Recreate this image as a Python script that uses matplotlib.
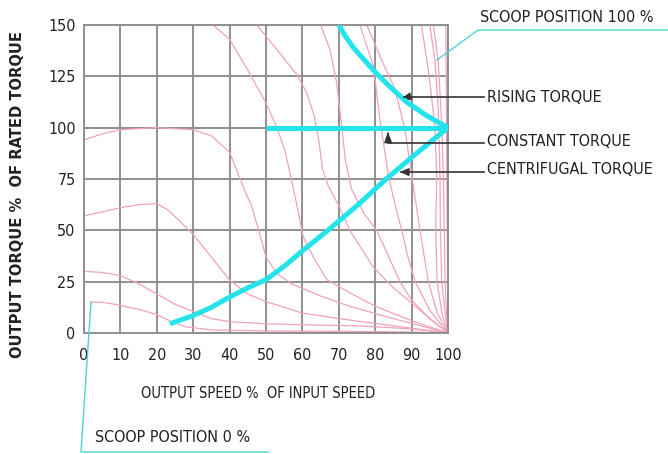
import matplotlib
matplotlib.use("Agg")
import matplotlib.pyplot as plt
from matplotlib import font_manager

# pick a narrow/condensed face if one is installed, otherwise Liberation Sans
narrow = None
for f in font_manager.fontManager.ttflist:
    n = (f.fname or "").lower()
    if ("narrow" in n or "condensed" in n) and ("liberation" in n or "dejavusans" in n.replace("-", "")) \
            and "bold" not in n and "oblique" not in n and "italic" not in n:
        narrow = f
        break
if narrow is not None:
    font_manager.fontManager.addfont(narrow.fname)
    plt.rcParams['font.family'] = [narrow.name, 'DejaVu Sans']
    plt.rcParams['font.stretch'] = narrow.stretch
    FS = 11.5
else:
    plt.rcParams['font.family'] = ['Liberation Sans', 'DejaVu Sans']
    FS = 11

# ---------------- data ----------------
x_ticks = [0, 10, 20, 30, 40, 50, 60, 70, 80, 90, 100]
y_ticks = [0, 25, 50, 75, 100, 125, 150]

# pink scoop-position family (0% ... 100%)
scoop_curves = {
    "A": ([2, 5, 10, 15, 20, 24, 28, 35, 50, 70, 90, 100],
          [15, 15, 13.5, 11.5, 9, 5.5, 3, 1.5, 1, 0.8, 0.5, 0]),
    "B": ([0, 5, 10, 15, 20, 25, 30, 35, 40, 50, 60, 75, 90, 100],
          [30, 29.5, 28, 24, 19, 14, 10.5, 7, 5.5, 4.5, 4, 3.5, 2, 0]),
    "C": ([0, 5, 10, 15, 20, 23, 26, 30, 35, 40, 45, 50, 60, 73, 85, 100],
          [57, 59, 61, 62.5, 63, 60, 55, 48, 37, 25.8, 19, 15.3, 9.7, 6.3, 3.5, 0]),
    "D": ([0, 5, 10, 20, 30, 35, 40, 42, 44, 46, 48, 50, 53, 57, 65, 73, 85, 100],
          [94, 97, 99, 100, 99, 96, 88, 79, 70, 62, 50, 37, 29, 24, 18, 13, 7, 0]),
    "E": ([35.5, 40, 45, 50, 53, 55, 56.6, 58.5, 60.2, 63, 66.7, 73, 80, 90, 100],
          [150, 143, 128, 112, 100, 90, 78, 62, 47, 37, 26, 19.6, 13, 6, 0]),
    "F": ([47.5, 53, 58.4, 61.2, 63.2, 64.5, 65.5, 67, 70, 73, 79.5, 85, 90.4, 95, 100],
          [150, 138, 126, 117, 106, 94, 80, 72, 62, 50, 32, 22, 14, 7, 0]),
    "G": ([65, 67.6, 69.4, 70.6, 71.8, 73.5, 77, 80.4, 84, 86.8, 90, 95, 100],
          [150, 138, 122, 104, 84, 70, 58, 50, 36, 25, 16, 7, 0]),
    "H": ([75.8, 79.5, 81.3, 83.6, 85.5, 87.3, 89, 91, 95, 100],
          [150, 130, 104, 77, 62, 50, 37, 25, 11, 0]),
    "H2": ([77.7, 82, 85.4, 88.2, 90, 91.3, 92.3, 94.6, 97, 100],
           [150, 132, 119, 99, 77, 62, 50, 25, 10, 0]),
    "I": ([92.7, 94.6, 96.4, 96.9, 96.6, 97, 98.3, 100],
          [150, 128, 101, 77, 50, 25, 10, 0]),
    "J": ([95, 96.4, 97.3, 97.8, 97.9, 98.3, 99.2, 100],
          [150, 133, 110, 77, 50, 25, 10, 0]),
    "K": ([96, 97.3, 98.3, 98.7, 99, 99.2, 99.6, 100],
          [150, 133, 101, 77, 50, 25, 10, 0]),
    "L": ([99.4, 99.6, 99.8, 100],
          [150, 100, 50, 0]),
}

rising_x = [70, 72, 74, 77, 80, 84, 88.6, 94, 100]
rising_y = [150, 144, 139, 133, 127, 120, 112.5, 106, 100]

constant_x = [50, 100]
constant_y = [100, 100]

centrifugal_x = [23.6, 30, 35, 40, 45, 50, 55, 60, 67, 75, 83, 91, 100]
centrifugal_y = [4.5, 8.5, 12.5, 17.5, 22, 26, 32.5, 40, 50, 62, 75, 87, 100]

# ---------------- figure ----------------
W, H = 668, 454
fig = plt.figure(figsize=(W / 100, H / 100), dpi=100)
fig.patch.set_facecolor("white")
ax = fig.add_axes([84 / W, 1 - 333 / H, (448 - 84) / W, (333 - 25) / H])
ax.set_xlim(0, 100)
ax.set_ylim(0, 150)

grid_col = "#8f8f8f"
ax.set_xticks(x_ticks)
ax.set_yticks(y_ticks)
ax.grid(True, color=grid_col, linewidth=1.4)
ax.set_axisbelow(True)
for s in ax.spines.values():
    s.set_color(grid_col)
    s.set_linewidth(1.4)
ax.tick_params(length=0, labelsize=FS, colors="#222222")
ax.tick_params(axis="x", pad=11)
ax.tick_params(axis="y", pad=6)

pink = "#f0a2bf"
for name, (xs, ys) in scoop_curves.items():
    ax.plot(xs, ys, color=pink, lw=0.9, zorder=2, clip_on=True, solid_joinstyle="round")

cyan = "#22e4ea"
for xs, ys in [(rising_x, rising_y), (constant_x, constant_y), (centrifugal_x, centrifugal_y)]:
    ax.plot(xs, ys, color=cyan, lw=3.6, zorder=4, solid_capstyle="butt", solid_joinstyle="round")

# ---------------- texts ----------------
txt = "#222222"
fig.text(18 / W, 1 - 195 / H, "OUTPUT TORQUE %  OF RATED TORQUE", rotation=90,
         ha="center", va="center", fontsize=FS + 0.3, fontweight="bold", color=txt)
fig.text(258 / W, 1 - 393 / H, "OUTPUT SPEED %  OF INPUT SPEED",
         ha="center", va="center", fontsize=FS - 1, color=txt)
fig.text(95 / W, 1 - 437 / H, "SCOOP POSITION 0 %",
         ha="left", va="center", fontsize=FS, color=txt)
fig.text(480 / W, 1 - 18 / H, "SCOOP POSITION 100 %",
         ha="left", va="center", fontsize=FS, color=txt)
fig.text(487 / W, 1 - 97 / H, "RISING TORQUE",
         ha="left", va="center", fontsize=FS, color=txt)
fig.text(487 / W, 1 - 142 / H, "CONSTANT TORQUE",
         ha="left", va="center", fontsize=FS, color=txt)
fig.text(487 / W, 1 - 170 / H, "CENTRIFUGAL TORQUE",
         ha="left", va="center", fontsize=FS, color=txt)


def add_line(points, color, lw):
    xs = [p[0] / W for p in points]
    ys = [1 - p[1] / H for p in points]
    fig.add_artist(plt.Line2D(xs, ys, transform=fig.transFigure, color=color, lw=lw, zorder=5))


dark = "#333333"
# rising torque leader
add_line([(484, 97), (404, 97)], dark, 1.2)
ax.annotate("", xy=(86.5, 114), xycoords="data", xytext=(408 / W, 1 - 97 / H),
            textcoords="figure fraction",
            arrowprops=dict(arrowstyle="-|>,head_length=0.5,head_width=0.22", color=dark, lw=1.2))
# constant torque leader
add_line([(484, 143), (388, 143), (388, 134)], dark, 1.2)
ax.annotate("", xy=(83.5, 98), xycoords="data", xytext=(388 / W, 1 - 136 / H),
            textcoords="figure fraction",
            arrowprops=dict(arrowstyle="-|>,head_length=0.6,head_width=0.22", color=dark, lw=1.2))
# centrifugal torque leader
add_line([(484, 172), (401, 172)], dark, 1.2)
ax.annotate("", xy=(86, 78.5), xycoords="data", xytext=(405 / W, 1 - 172 / H),
            textcoords="figure fraction",
            arrowprops=dict(arrowstyle="-|>,head_length=0.5,head_width=0.22", color=dark, lw=1.2))

leader = "#4fd3d3"
# scoop 100% leader
add_line([(437, 60), (478, 30), (668, 30)], leader, 1.0)
# scoop 0% leader
add_line([(91, 302), (81, 452), (268, 452)], leader, 1.0)

fig.savefig("out.png", dpi=100, facecolor="white")
